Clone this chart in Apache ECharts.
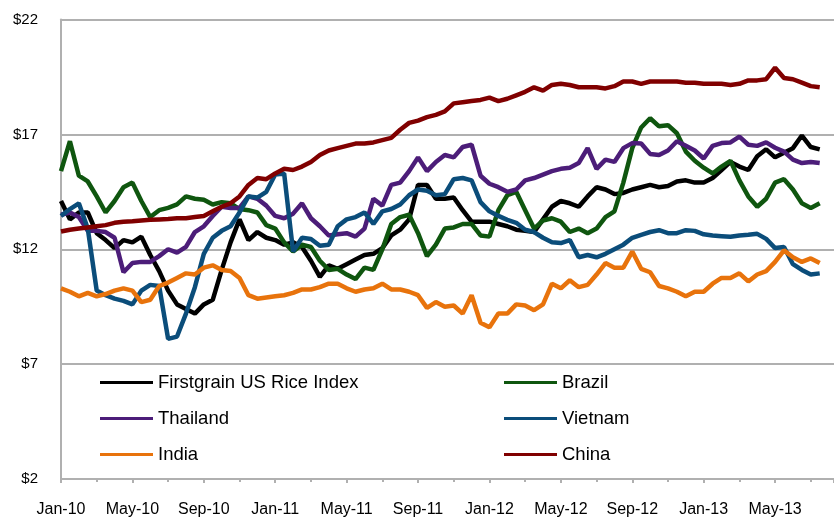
<!DOCTYPE html>
<html>
<head>
<meta charset="utf-8">
<script src="https://cdn.jsdelivr.net/npm/echarts@6/dist/echarts.min.js"></script>
<style>
  html, body { margin: 0; padding: 0; background: #fff; }
  #main { width: 834px; height: 518px; }
</style>
</head>
<body>
<div id="main"></div>
<script>
// x positions in months from Jan-10, sampled every half month
const halfMonths = []
for (let i = 0; i < 86; i++) halfMonths.push(i / 2)

const tickLabels = ['Jan-10', 'May-10', 'Sep-10', 'Jan-11', 'May-11', 'Sep-11',
  'Jan-12', 'May-12', 'Sep-12', 'Jan-13', 'May-13']

const firstgrain = [14.1, 13.3, 13.6, 13.6, 12.7, 12.4, 12.05, 12.4, 12.3, 12.55,
  11.75, 11.05, 10.2, 9.6, 9.4, 9.2, 9.6, 9.8, 11.1, 12.3,
  13.3, 12.4, 12.75, 12.5, 12.4, 12.2, 12.3, 12.1, 11.5, 10.8,
  11.3, 11.15, 11.35, 11.55, 11.75, 11.8, 12.05, 12.6, 12.85, 13.3,
  14.8, 14.8, 14.2, 14.2, 14.25, 13.7, 13.2, 13.2, 13.2, 13.1,
  13.0, 12.85, 12.8, 12.75, 13.3, 13.85, 14.1, 14.0, 13.85, 14.3,
  14.7, 14.6, 14.4, 14.45, 14.6, 14.7, 14.8, 14.7, 14.75, 14.95,
  15.0, 14.9, 14.9, 15.1, 15.45, 15.8, 15.6, 15.45, 16.05, 16.35,
  16.0, 16.2, 16.4, 16.95, 16.45, 16.35]

const brazil = [15.4, 16.7, 15.2, 14.95, 14.3, 13.6, 14.1, 14.7, 14.9, 14.1,
  13.4, 13.7, 13.8, 13.95, 14.3, 14.2, 14.15, 13.95, 14.05, 14.0,
  13.75, 13.7, 13.6, 13.05, 12.9, 12.3, 11.9, 12.2, 12.1, 11.5,
  11.1, 11.15, 10.9, 10.7, 11.2, 11.1, 12.0, 13.1, 13.4, 13.5,
  12.7, 11.7, 12.2, 12.9, 12.95, 13.1, 13.1, 12.6, 12.55, 13.7,
  14.35, 14.5, 13.7, 12.9, 13.25, 13.35, 13.2, 12.75, 12.9, 12.7,
  12.9, 13.4, 13.65, 14.9, 16.4, 17.3, 17.7, 17.35, 17.4, 17.05,
  16.25, 15.85, 15.55, 15.3, 15.6, 15.85, 15.0, 14.3, 13.85, 14.2,
  14.9, 15.05, 14.6, 14.0, 13.8, 14.0]

const thailand = [13.5, 13.6, 13.4, 12.8, 12.8, 12.75, 12.5, 11.0, 11.4, 11.45,
  11.45, 11.7, 12.0, 11.85, 12.1, 12.75, 13.0, 13.45, 13.85, 13.8,
  13.8, 14.3, 14.2, 13.9, 13.45, 13.35, 13.55, 14.0, 13.35, 13.0,
  12.6, 12.65, 12.7, 12.55, 12.9, 14.2, 13.9, 14.8, 14.9, 15.4,
  16.0, 15.4, 15.8, 16.1, 16.0, 16.45, 16.55, 15.2, 14.85, 14.7,
  14.5, 14.6, 15.0, 15.1, 15.25, 15.4, 15.5, 15.55, 15.75, 16.4,
  15.5, 15.9, 15.8, 16.4, 16.62, 16.6, 16.15, 16.1, 16.3, 16.7,
  16.5, 16.3, 15.95, 16.5, 16.62, 16.65, 16.9, 16.55, 16.5, 16.65,
  16.42, 16.25, 15.9, 15.75, 15.8, 15.75]

const vietnam = [13.45, 13.75, 14.0, 12.9, 10.2, 10.0, 9.85, 9.75, 9.6, 10.2,
  10.45, 10.4, 8.1, 8.2, 9.2, 10.35, 11.8, 12.5, 12.8, 13.0,
  13.6, 14.3, 14.25, 14.5, 15.25, 15.3, 11.9, 12.5, 12.45, 12.15,
  12.2, 13.0, 13.3, 13.4, 13.6, 13.1, 13.65, 13.75, 13.95, 14.35,
  14.6, 14.55, 14.35, 14.4, 15.05, 15.1, 15.0, 14.05, 13.65, 13.45,
  13.28, 13.15, 12.85, 12.75, 12.5, 12.3, 12.27, 12.4, 11.65, 11.75,
  11.65, 11.8, 12.0, 12.2, 12.5, 12.63, 12.75, 12.83, 12.7, 12.7,
  12.83, 12.8, 12.65, 12.6, 12.57, 12.54, 12.6, 12.63, 12.67, 12.45,
  12.05, 12.1, 11.35, 11.1, 10.9, 10.95]

const india = [10.3, 10.15, 9.95, 10.1, 9.95, 10.05, 10.2, 10.3, 10.2, 9.7,
  9.8, 10.4, 10.55, 10.75, 10.95, 10.9, 11.2, 11.3, 11.1, 11.05,
  10.75, 10.0, 9.85, 9.9, 9.95, 10.0, 10.1, 10.25, 10.25, 10.35,
  10.5, 10.5, 10.3, 10.15, 10.25, 10.3, 10.5, 10.25, 10.25, 10.15,
  10.0, 9.45, 9.7, 9.5, 9.55, 9.2, 10.0, 8.8, 8.6, 9.2,
  9.2, 9.6, 9.55, 9.35, 9.6, 10.5, 10.3, 10.65, 10.35, 10.45,
  10.9, 11.4, 11.2, 11.2, 11.9, 11.15, 11.0, 10.4, 10.3, 10.15,
  9.95, 10.15, 10.15, 10.5, 10.75, 10.75, 10.95, 10.6, 10.9, 11.05,
  11.45, 11.95, 11.65, 11.45, 11.6, 11.4]

const china = [12.77, 12.85, 12.9, 12.95, 13.0, 13.05, 13.15, 13.2, 13.22, 13.25,
  13.28, 13.3, 13.32, 13.35, 13.35, 13.4, 13.45, 13.65, 13.85, 14.0,
  14.3, 14.8, 15.1, 15.05, 15.3, 15.5, 15.45, 15.6, 15.8, 16.1,
  16.3, 16.4, 16.5, 16.6, 16.6, 16.65, 16.75, 16.85, 17.2, 17.5,
  17.6, 17.75, 17.85, 18.0, 18.35, 18.4, 18.45, 18.5, 18.6, 18.45,
  18.55, 18.7, 18.85, 19.05, 18.9, 19.15, 19.2, 19.15, 19.05, 19.05,
  19.05, 19.0, 19.1, 19.3, 19.3, 19.2, 19.3, 19.3, 19.3, 19.3,
  19.25, 19.25, 19.2, 19.2, 19.2, 19.15, 19.2, 19.35, 19.35, 19.4,
  19.9, 19.45, 19.4, 19.25, 19.1, 19.05]

const seriesDefs = [
  { name: 'Firstgrain US Rice Index', color: '#000000', values: firstgrain },
  { name: 'Brazil', color: '#0f560f', values: brazil },
  { name: 'Thailand', color: '#4c1d79', values: thailand },
  { name: 'Vietnam', color: '#0b4d7a', values: vietnam },
  { name: 'India', color: '#e8730c', values: india },
  { name: 'China', color: '#800000', values: china }
]

const font = '"Liberation Sans", Arial, sans-serif'
const gray = '#b0b0b0'

const legendBase = {
  orient: 'vertical',
  top: 372.5,
  padding: 0,
  itemGap: 16,
  itemWidth: 53,
  itemHeight: 3,
  icon: 'rect',
  textStyle: { fontFamily: font, fontSize: 18.5, lineHeight: 20, color: '#000' }
}

const option = {
  animation: false,
  backgroundColor: '#fff',
  grid: { left: 61, top: 19.5, height: 460, width: 790 },
  legend: [
    Object.assign({ left: 100, data: ['Firstgrain US Rice Index', 'Thailand', 'India'] }, legendBase),
    Object.assign({ left: 504, data: ['Brazil', 'Vietnam', 'China'] }, legendBase)
  ],
  xAxis: {
    type: 'value',
    min: 0,
    max: 43.3,
    interval: 4,
    axisLine: { lineStyle: { color: gray, width: 2 } },
    axisTick: { show: true, length: 4, lineStyle: { color: gray, width: 2 } },
    minorTick: { show: true, splitNumber: 2, length: 3, lineStyle: { color: gray, width: 2 } },
    splitLine: { show: false },
    axisLabel: {
      margin: 23,
      fontFamily: font,
      fontSize: 16,
      color: '#000',
      showMaxLabel: false,
      formatter: function (v) {
        const i = Math.round(v / 4)
        return (Math.abs(v - i * 4) < 1e-6 && tickLabels[i]) ? tickLabels[i] : ''
      }
    }
  },
  yAxis: {
    type: 'value',
    min: 2,
    max: 22,
    interval: 5,
    axisLine: { show: true, lineStyle: { color: gray, width: 2 } },
    axisTick: { show: false },
    splitLine: { show: true, lineStyle: { color: gray, width: 2 } },
    axisLabel: {
      margin: 23,
      fontFamily: font,
      fontSize: 15,
      color: '#000',
      formatter: function (v) { return '$' + v }
    }
  },
  series: seriesDefs.map(function (s) {
    return {
      name: s.name,
      type: 'line',
      showSymbol: false,
      symbol: 'none',
      data: s.values.map(function (v, i) { return [halfMonths[i], v] }),
      lineStyle: { color: s.color, width: 4.5 },
      itemStyle: { color: s.color }
    }
  })
}

const chart = echarts.init(document.getElementById('main'))
chart.setOption(option)
</script>
</body>
</html>
